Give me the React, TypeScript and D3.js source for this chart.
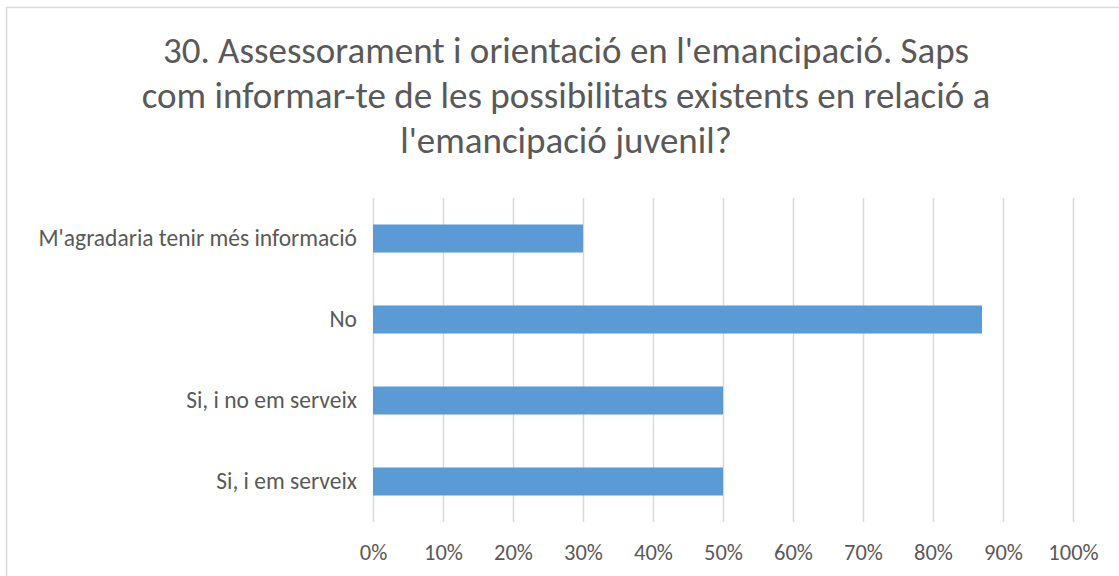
import { useEffect, useRef } from 'react'
import * as d3 from 'd3'

const titleLines = [
  "30. Assessorament i orientació en l'emancipació. Saps",
  'com informar-te de les possibilitats existents en relació a',
  "l'emancipació juvenil?",
]
const categories = [
  "M'agradaria tenir més informació",
  'No',
  'Si, i no em serveix',
  'Si, i em serveix',
]
const values = [0.3, 0.87, 0.5, 0.5]
const tickValues = [0, 0.1, 0.2, 0.3, 0.4, 0.5, 0.6, 0.7, 0.8, 0.9, 1]

const FONT = "Calibri, Carlito, Lato, 'Open Sans', sans-serif"

function App() {
  const svgRef = useRef<SVGSVGElement>(null)

  useEffect(() => {
    if (!svgRef.current) return
    const width = 1119
    const height = 576
    const margin = { top: 198, right: 46, bottom: 54, left: 373 }

    d3.select(svgRef.current).selectAll('*').remove()
    const svg = d3.select(svgRef.current).attr('width', width).attr('height', height)

    // chart border
    svg
      .append('rect')
      .attr('x', 6.5)
      .attr('y', 7.5)
      .attr('width', width + 10)
      .attr('height', height + 10)
      .attr('fill', '#fff')
      .attr('stroke', '#d9d9d9')
      .attr('stroke-width', 1.5)

    // title
    svg
      .append('text')
      .attr('text-anchor', 'middle')
      .attr('font-family', FONT)
      .attr('font-size', 37)
      .attr('fill', '#595959')
      .selectAll('tspan')
      .data(titleLines)
      .enter()
      .append('tspan')
      .attr('x', 566)
      .attr('y', (_d, i) => 63 + i * 45)
      .text((d) => d)

    const x = d3
      .scaleLinear()
      .domain([0, 1])
      .range([margin.left, width - margin.right])
    const y = d3
      .scaleBand()
      .domain(categories)
      .range([margin.top, height - margin.bottom])
      .paddingInner(0.654)
      .paddingOuter(0.327)

    // gridlines
    svg
      .append('g')
      .selectAll('line')
      .data(tickValues)
      .enter()
      .append('line')
      .attr('x1', (d) => Math.round(x(d)) + 0.5)
      .attr('x2', (d) => Math.round(x(d)) + 0.5)
      .attr('y1', margin.top)
      .attr('y2', height - margin.bottom)
      .attr('stroke', '#d9d9d9')
      .attr('stroke-width', 1.5)

    // bars
    svg
      .append('g')
      .selectAll('rect')
      .data(categories)
      .enter()
      .append('rect')
      .attr('x', x(0))
      .attr('y', (d) => y(d)!)
      .attr('width', (_d, i) => x(values[i]) - x(0))
      .attr('height', y.bandwidth())
      .attr('fill', '#5b9bd5')

    // x axis labels
    const xAxis = svg
      .append('g')
      .attr('transform', `translate(0,${height - margin.bottom})`)
      .call(
        d3
          .axisBottom(x)
          .tickValues(tickValues)
          .tickFormat((d) => `${Math.round(+d * 100)}%`)
          .tickSize(0)
          .tickPadding(22)
      )
    xAxis.select('.domain').remove()
    xAxis
      .selectAll('text')
      .attr('font-family', FONT)
      .attr('font-size', 22.5)
      .attr('fill', '#595959')

    // y axis labels
    const yAxis = svg
      .append('g')
      .attr('transform', `translate(${margin.left},0)`)
      .call(d3.axisLeft(y).tickSize(0).tickPadding(16))
    yAxis.select('.domain').remove()
    yAxis
      .selectAll('text')
      .attr('font-family', FONT)
      .attr('font-size', 23.5)
      .attr('fill', '#595959')
  }, [])

  return (
    <div style={{ position: 'absolute', left: 0, top: 0 }}>
      <svg ref={svgRef}></svg>
    </div>
  )
}

export default App
